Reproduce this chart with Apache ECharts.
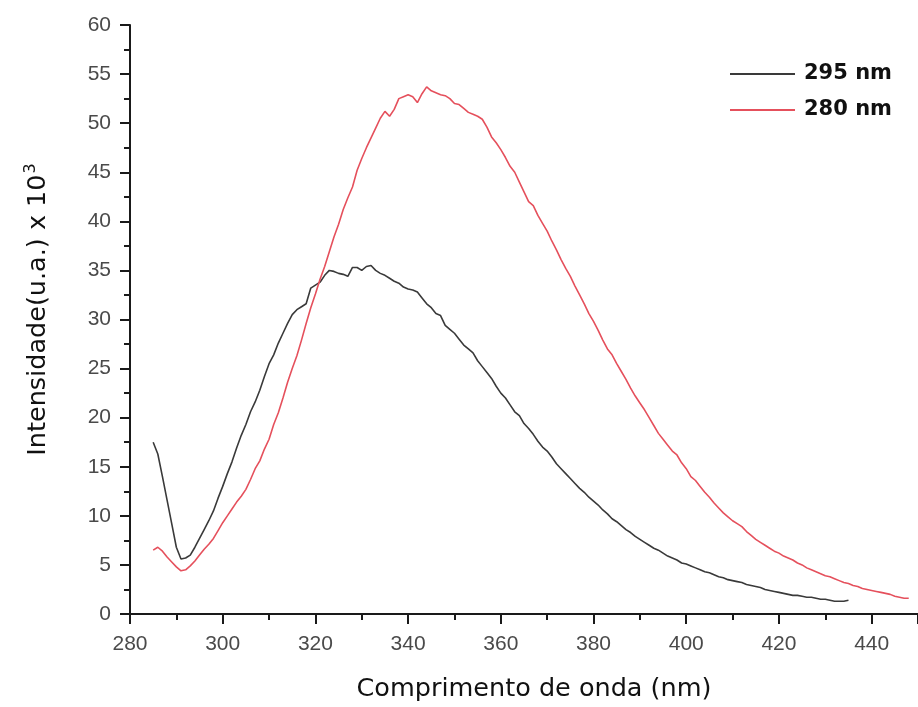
<!DOCTYPE html>
<html>
<head>
<meta charset="utf-8">
<script src="https://cdn.jsdelivr.net/npm/echarts@6/dist/echarts.min.js"></script>
<style>html,body{margin:0;padding:0;background:#fff;}#c{width:918px;height:707px;}</style>
</head>
<body>
<div id="c"></div>
<script>
// Wavelength (nm)
var wavelengths = [
  285,286,287,288,289,
  290,291,292,293,294,295,296,297,298,299,
  300,301,302,303,304,305,306,307,308,309,
  310,311,312,313,314,315,316,317,318,319,
  320,321,322,323,324,325,326,327,328,329,
  330,331,332,333,334,335,336,337,338,339,
  340,341,342,343,344,345,346,347,348,349,
  350,351,352,353,354,355,356,357,358,359,
  360,361,362,363,364,365,366,367,368,369,
  370,371,372,373,374,375,376,377,378,379,
  380,381,382,383,384,385,386,387,388,389,
  390,391,392,393,394,395,396,397,398,399,
  400,401,402,403,404,405,406,407,408,409,
  410,411,412,413,414,415,416,417,418,419,
  420,421,422,423,424,425,426,427,428,429,
  430,431,432,433,434,435,436,437,438,439,
  440,441,442,443,444,445,446,447,448
];
// Excitation 295 nm (285..435)
var intensity295 = [
  17.5,16.3,14.0,11.6,9.2,
  6.8,5.6,5.7,6.0,6.8,7.7,8.6,9.5,10.5,11.8,
  13.0,14.3,15.5,16.9,18.2,19.3,20.6,21.6,22.8,24.2,
  25.5,26.4,27.6,28.6,29.6,30.5,31.0,31.3,31.6,33.2,
  33.5,33.8,34.5,35.0,34.9,34.7,34.6,34.4,35.3,35.3,
  35.0,35.4,35.5,35.0,34.7,34.5,34.2,33.9,33.7,33.3,
  33.1,33.0,32.8,32.2,31.6,31.2,30.6,30.4,29.4,29.0,
  28.6,28.0,27.4,27.0,26.6,25.8,25.2,24.6,24.0,23.2,
  22.5,22.0,21.3,20.6,20.2,19.4,18.9,18.3,17.6,17.0,
  16.6,16.0,15.3,14.8,14.3,13.8,13.3,12.8,12.4,11.9,
  11.5,11.1,10.6,10.2,9.7,9.4,9.0,8.6,8.3,7.9,
  7.6,7.3,7.0,6.7,6.5,6.2,5.9,5.7,5.5,5.2,
  5.1,4.9,4.7,4.5,4.3,4.2,4.0,3.8,3.7,3.5,
  3.4,3.3,3.2,3.0,2.9,2.8,2.7,2.5,2.4,2.3,
  2.2,2.1,2.0,1.9,1.9,1.8,1.7,1.7,1.6,1.5,
  1.5,1.4,1.3,1.3,1.3,1.4
];
// Excitation 280 nm (285..448)
var intensity280 = [
  6.5,6.8,6.4,5.8,5.3,
  4.8,4.4,4.5,4.9,5.4,6.0,6.6,7.1,7.7,8.5,
  9.3,10.0,10.7,11.4,12.0,12.7,13.7,14.8,15.6,16.8,
  17.8,19.3,20.5,22.0,23.6,25.0,26.3,27.9,29.6,31.2,
  32.6,34.1,35.4,36.9,38.4,39.7,41.2,42.4,43.5,45.2,
  46.4,47.5,48.5,49.5,50.5,51.2,50.7,51.4,52.5,52.7,
  52.9,52.7,52.1,53.0,53.7,53.3,53.1,52.9,52.8,52.5,
  52.0,51.9,51.5,51.1,50.9,50.7,50.4,49.6,48.6,48.0,
  47.3,46.5,45.6,45.0,44.0,43.0,42.0,41.6,40.6,39.8,
  39.0,38.0,37.1,36.1,35.2,34.4,33.4,32.5,31.6,30.6,
  29.8,28.9,27.9,27.0,26.4,25.5,24.7,23.9,23.0,22.2,
  21.5,20.8,20.0,19.2,18.4,17.8,17.2,16.6,16.2,15.4,
  14.8,14.0,13.6,13.0,12.4,11.9,11.3,10.8,10.3,9.9,
  9.5,9.2,8.9,8.4,8.0,7.6,7.3,7.0,6.7,6.4,
  6.2,5.9,5.7,5.5,5.2,5.0,4.7,4.5,4.3,4.1,
  3.9,3.8,3.6,3.4,3.2,3.1,2.9,2.8,2.6,2.5,
  2.4,2.3,2.2,2.1,2.0,1.8,1.7,1.6,1.6
];
var seriesNames = ['295 nm', '280 nm'];

function pairs(ys) { return ys.map(function (y, i) { return [wavelengths[i], y]; }); }

var FONT = 'DejaVu Sans';
var TICKFONT = 'Liberation Sans';
var chart = echarts.init(document.getElementById('c'), null, { renderer: 'canvas' });
chart.setOption({
  backgroundColor: '#ffffff',
  animation: false,
  grid: { left: 130, right: -10, top: 25, bottom: 91, containLabel: false },
  legend: {
    orient: 'vertical',
    left: 725,
    top: 58,
    itemWidth: 65,
    itemHeight: 2,
    itemGap: 14,
    icon: 'rect',
    data: seriesNames,
    textStyle: { fontFamily: FONT, fontSize: 21, fontWeight: 'bold', color: '#111', lineHeight: 22, padding: [0, 0, 0, 4] }
  },
  xAxis: [{
    type: 'value',
    min: 280, max: 450, interval: 20,
    position: 'bottom',
    name: 'Comprimento de onda (nm)',
    nameLocation: 'middle',
    nameGap: 62,
    nameTextStyle: { fontFamily: FONT, fontSize: 25.5, color: '#111', padding: [0, 0, 0, 20] },
    axisLine: { show: true, onZero: false, lineStyle: { color: '#1a1a1a', width: 2 } },
    axisTick: { show: true, inside: false, length: 10, lineStyle: { color: '#1a1a1a', width: 2 } },
    minorTick: { show: true, splitNumber: 2, length: 6, lineStyle: { color: '#1a1a1a', width: 2 } },
    axisLabel: { fontFamily: TICKFONT, fontSize: 21, color: '#4a4a4a', margin: 20, showMaxLabel: false },
    splitLine: { show: false }
  }, {
    type: 'value',
    min: 280, max: 450,
    position: 'top',
    axisLine: { show: true, lineStyle: { color: '#1a1a1a', width: 2 } },
    axisTick: { show: false },
    axisLabel: { show: false },
    splitLine: { show: false }
  }],
  yAxis: {
    type: 'value',
    min: 0, max: 60, interval: 5,
    name: 'Intensidade(u.a.) x 10{sup|3}',
    nameLocation: 'middle',
    nameRotate: 90,
    nameGap: 76,
    nameTextStyle: {
      fontFamily: FONT, fontSize: 25.5, color: '#111', padding: [0, 0, 0, 20],
      rich: { sup: { fontFamily: FONT, fontSize: 16, color: '#111', padding: [0, 0, 15, 1] } }
    },
    axisLine: { show: true, onZero: false, lineStyle: { color: '#1a1a1a', width: 2 } },
    axisTick: { show: true, inside: false, length: 10, lineStyle: { color: '#1a1a1a', width: 2 } },
    minorTick: { show: true, splitNumber: 2, length: 6, lineStyle: { color: '#1a1a1a', width: 2 } },
    axisLabel: { fontFamily: TICKFONT, fontSize: 21, color: '#4a4a4a', margin: 19 },
    splitLine: { show: false }
  },
  series: [{
    name: seriesNames[0],
    type: 'line',
    data: pairs(intensity295),
    symbol: 'none',
    smooth: false,
    color: '#3a3a3a',
    lineStyle: { color: '#3a3a3a', width: 1.6 }
  }, {
    name: seriesNames[1],
    type: 'line',
    data: pairs(intensity280),
    symbol: 'none',
    smooth: false,
    color: '#e5505c',
    lineStyle: { color: '#e5505c', width: 1.6 }
  }]
});
</script>
</body>
</html>
